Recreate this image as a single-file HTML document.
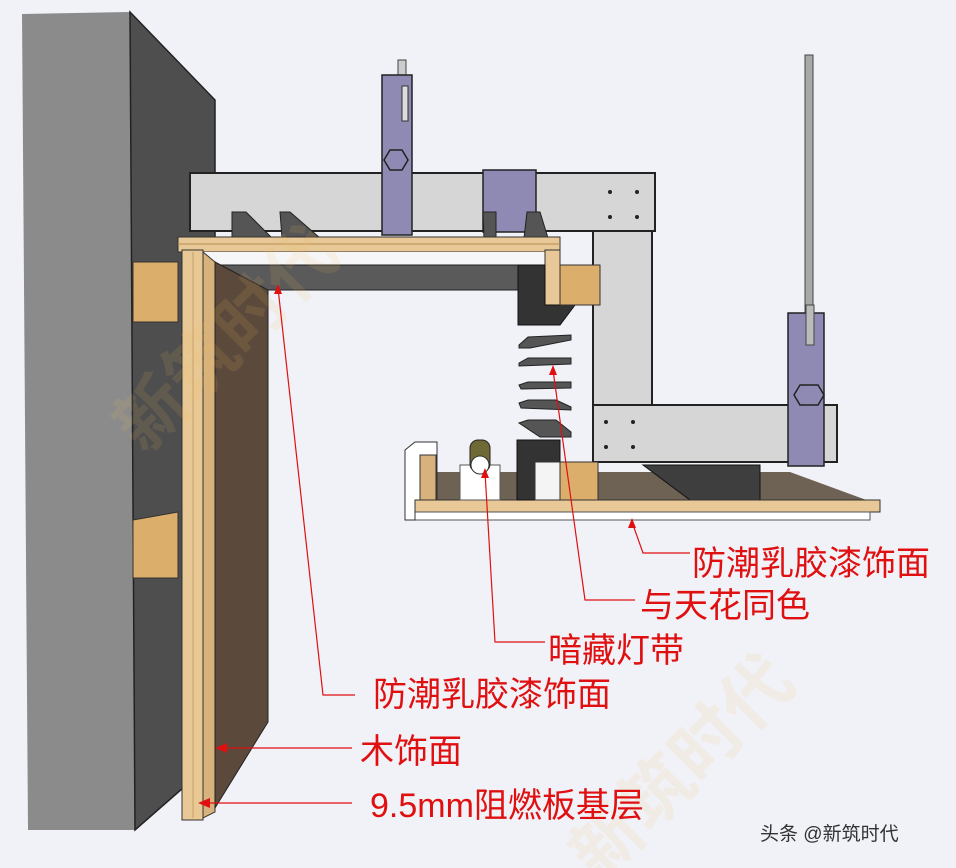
<!DOCTYPE html>
<html><head><meta charset="utf-8"><style>
html,body{margin:0;padding:0;background:#f1f2f8;}
svg{display:block}
text{font-family:"Liberation Sans","Noto Sans CJK SC",sans-serif;}
</style></head><body>
<svg width="956" height="868" viewBox="0 0 956 868" xmlns="http://www.w3.org/2000/svg">
<rect width="956" height="868" fill="#f1f2f8"/>
<polygon points="22,14 130,12 135,830 28,830" fill="#8b8b8b"/>
<polygon points="130,12 215,100 215,760 135,830" fill="#4e4e4e" stroke="#222" stroke-width="1.5"/>
<polygon points="133,262 178,262 178,322 133,322" fill="#dcae6c" stroke="#333"/>
<polygon points="133,520 178,512 178,578 133,578" fill="#dcae6c" stroke="#333"/>
<rect x="190" y="173" width="465" height="58" fill="#d6d6d6" stroke="#222" stroke-width="2"/>
<g fill="#222"><circle cx="610" cy="192" r="2"/><circle cx="637" cy="192" r="2"/><circle cx="610" cy="217" r="2"/><circle cx="637" cy="217" r="2"/></g>
<rect x="593" y="231" width="59" height="176" fill="#d6d6d6" stroke="#222" stroke-width="2"/>
<rect x="593" y="405" width="244" height="57" fill="#d6d6d6" stroke="#222" stroke-width="2"/>
<g fill="#222"><circle cx="606" cy="422" r="2"/><circle cx="633" cy="422" r="2"/><circle cx="606" cy="447" r="2"/><circle cx="633" cy="447" r="2"/></g>
<rect x="805" y="55" width="8" height="260" fill="#a8a8a8" stroke="#444"/>
<rect x="398" y="60" width="8" height="30" fill="#ccc" stroke="#444"/>
<rect x="382" y="75" width="30" height="160" fill="#8e8ab4" stroke="#222" stroke-width="1.5"/>
<polygon points="390,150 402,150 408,160 402,170 390,170 384,160" fill="none" stroke="#222" stroke-width="1.5"/>
<rect x="402" y="86" width="6" height="35" fill="#ddd" stroke="#333"/>
<rect x="483" y="170" width="53" height="62" fill="#8e8ab4" stroke="#222" stroke-width="1.5"/>
<rect x="788" y="313" width="36" height="153" fill="#8e8ab4" stroke="#222" stroke-width="1.5"/>
<polygon points="800,385 818,385 824,395 818,405 800,405 794,395" fill="none" stroke="#222" stroke-width="1.5"/>
<rect x="806" y="305" width="8" height="40" fill="#bbb" stroke="#444"/>
<g fill="#555" stroke="#222"><polygon points="232,212 246,212 272,238 232,238"/><polygon points="280,212 290,212 320,238 282,238"/><polygon points="483,212 496,212 496,238 484,238"/><polygon points="527,212 540,212 548,238 524,238"/></g>
<rect x="178" y="237" width="382" height="15" fill="#e7c896" stroke="#333"/>
<line x1="178" y1="244" x2="560" y2="244" stroke="#b58c54"/>
<polygon points="200,252 545,252 545,265 200,265" fill="#f6f6f8"/>
<polygon points="210,265 530,265 518,290 265,290" fill="#5a5a5a" stroke="#222"/>
<rect x="545" y="250" width="15" height="55" fill="#e7c896" stroke="#333"/>
<polygon points="518,265 545,265 545,305 575,305 560,325 518,325" fill="#333" stroke="#111"/>
<rect x="560" y="265" width="40" height="40" fill="#dcae6c" stroke="#333"/>
<polygon points="182,250 203,250 203,820 182,820" fill="#e8c894" stroke="#333"/>
<line x1="193" y1="252" x2="193" y2="818" stroke="#c8a06a"/>
<polygon points="203,252 215,262 215,812 203,818" fill="#d7b27c" stroke="#333"/>
<polygon points="215,262 268,290 268,722 215,808" fill="#5b4a3c" stroke="#222"/>
<g fill="#555" stroke="#222">
<polygon points="519,345 528,337 571,335 571,340 530,348 519,348"/>
<polygon points="519,363 528,358 571,358 571,364 519,366"/>
<polygon points="519,385 528,382 571,382 571,388 521,389"/>
<polygon points="519,403 528,400 556,400 571,407 571,410 521,408"/>
<polygon points="519,423 528,420 556,420 571,432 571,437 540,437"/>
</g>
<polygon points="437,472 643,472 790,472 880,505 415,505" fill="#6d6253"/>
<polygon points="643,465 760,465 760,500 690,500" fill="#3e3e3e" stroke="#111"/>
<rect x="415" y="500" width="465" height="12" fill="#e7c896" stroke="#333"/>
<rect x="415" y="512" width="455" height="8" fill="#fff" stroke="#555"/>
<polygon points="405,450 415,442 437,442 437,500 415,500 415,520 405,520" fill="#fff" stroke="#333"/>
<rect x="420" y="455" width="16" height="45" fill="#d7b27c" stroke="#333"/>
<rect x="460" y="465" width="40" height="35" fill="#fff" stroke="#555"/>
<rect x="470" y="440" width="20" height="32" rx="8" fill="#6f6a35" stroke="#222"/>
<circle cx="480" cy="465" r="9" fill="#fff" stroke="#333"/>
<rect x="517" y="440" width="43" height="60" fill="#333" stroke="#111"/>
<rect x="535" y="462" width="25" height="38" fill="#f4f4f4" stroke="#333"/>
<rect x="560" y="462" width="38" height="38" fill="#dcae6c" stroke="#333"/>
<g fill="#f4b860" opacity="0.12" font-size="70" font-weight="bold">
<text x="30" y="420" transform="rotate(-45 130 300)">新筑时代</text>
<text x="470" y="830" transform="rotate(-45 600 700)">新筑时代</text>
</g>
<g stroke="#e01010" stroke-width="1.2" fill="none">
<polyline points="632,522 643,553 690,553"/>
<polyline points="553,370 585,600 635,600"/>
<polyline points="485,472 495,642 545,642"/>
<polyline points="278,288 323,695 355,695"/>
<line x1="220" y1="748" x2="352" y2="748"/>
<line x1="203" y1="803" x2="352" y2="803"/>
</g>
<g fill="#e01010">
<polygon points="632,518 628,528 636,528"/>
<polygon points="553,365 549,375 557,375"/>
<polygon points="485,468 481,478 489,478"/>
<polygon points="278,284 274,294 282,294"/>
<polygon points="215,748 227,743 227,753"/>
<polygon points="198,803 210,798 210,808"/>
</g>
<g fill="#e01010" font-size="34">
<text x="692" y="575">防潮乳胶漆饰面</text>
<text x="640" y="617">与天花同色</text>
<text x="548" y="662">暗藏灯带</text>
<text x="373" y="706">防潮乳胶漆饰面</text>
<text x="360" y="763">木饰面</text>
<text x="370" y="817">9.5mm阻燃板基层</text>
</g>
<text x="760" y="840" font-size="19" fill="#333">头条 @新筑时代</text>
</svg>
</body></html>
